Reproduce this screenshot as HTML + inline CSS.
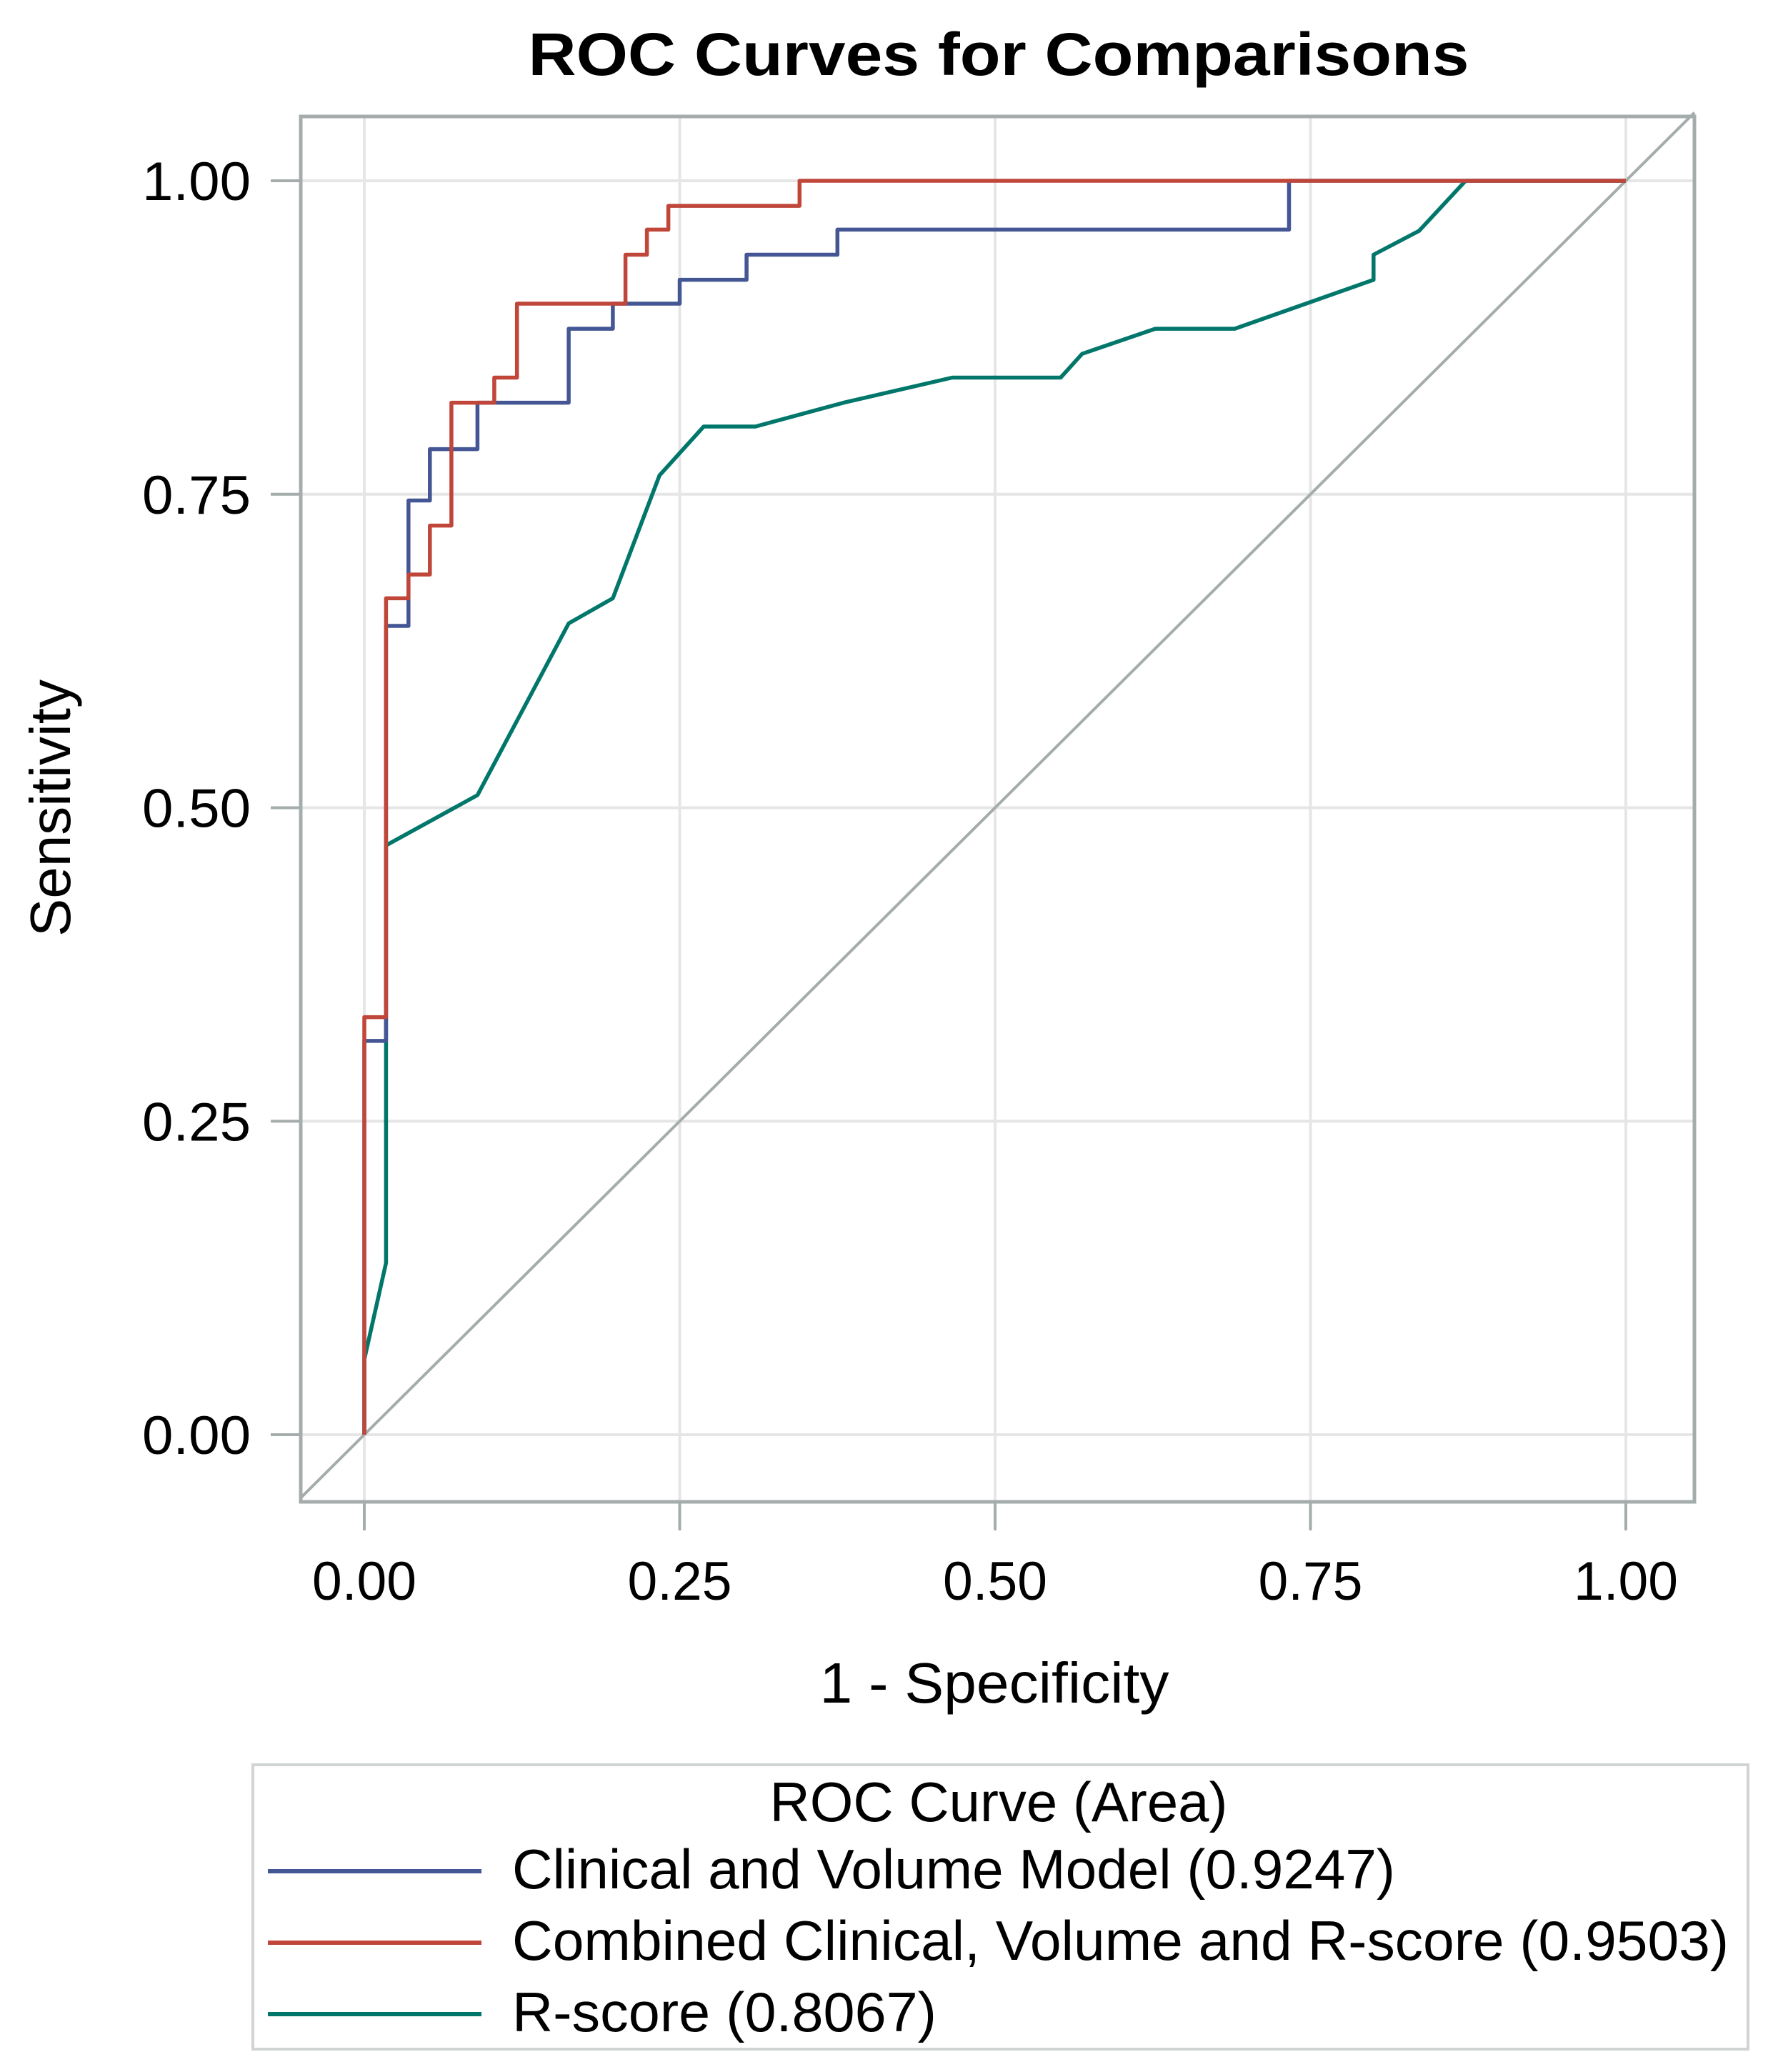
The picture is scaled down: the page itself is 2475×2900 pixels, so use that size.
<!DOCTYPE html>
<html><head><meta charset="utf-8"><style>
html,body{margin:0;padding:0;background:#fff;}
svg{display:block;font-family:"Liberation Sans",Arial,sans-serif;}
</style></head><body>
<svg id="chart" width="2475" height="2900" viewBox="0 0 2475 2900" xmlns="http://www.w3.org/2000/svg">
<rect width="2475" height="2900" fill="#fff"/>
<text x="1398" y="105" text-anchor="middle" font-weight="bold" font-size="84" textLength="1317" lengthAdjust="spacingAndGlyphs">ROC Curves for Comparisons</text>
<g id="grid"></g>
<g id="axes"></g>
<g id="series"></g>
<text x="1392" y="2383" text-anchor="middle" font-size="80" textLength="489" lengthAdjust="spacingAndGlyphs">1 - Specificity</text>
<text transform="translate(98,1131) rotate(-90)" text-anchor="middle" font-size="80" textLength="360" lengthAdjust="spacingAndGlyphs">Sensitivity</text>
<g>
<rect x="354" y="2470" width="2093" height="398" fill="#fff" stroke="#d0d4d4" stroke-width="4"/>
<text x="1398" y="2549" text-anchor="middle" font-size="78" textLength="641" lengthAdjust="spacingAndGlyphs">ROC Curve (Area)</text>
<line x1="375" y1="2619" x2="674" y2="2619" stroke="#445694" stroke-width="6"/>
<text x="717" y="2643" font-size="78" textLength="1236" lengthAdjust="spacingAndGlyphs">Clinical and Volume Model  (0.9247)</text>
<line x1="375" y1="2719" x2="674" y2="2719" stroke="#c0463a" stroke-width="6"/>
<text x="717" y="2743" font-size="78" textLength="1703" lengthAdjust="spacingAndGlyphs">Combined Clinical, Volume and R-score  (0.9503)</text>
<line x1="375" y1="2819" x2="674" y2="2819" stroke="#01766a" stroke-width="6"/>
<text x="717" y="2843" font-size="78" textLength="594" lengthAdjust="spacingAndGlyphs">R-score  (0.8067)</text>
</g>
</svg>
<script>
const xTicks = [0, 0.25, 0.5, 0.75, 1.0];
const yTicks = [0, 0.25, 0.5, 0.75, 1.0];
const tickLabels = ["0.00", "0.25", "0.50", "0.75", "1.00"];
const blueX = [0, 0, 0.0172, 0.0172, 0.035, 0.035, 0.052, 0.052, 0.0897, 0.0897, 0.162, 0.162, 0.197, 0.197, 0.25, 0.25, 0.303, 0.303, 0.375, 0.375, 0.733, 0.733, 1.0];
const blueY = [0, 0.314, 0.314, 0.645, 0.645, 0.745, 0.745, 0.786, 0.786, 0.823, 0.823, 0.882, 0.882, 0.902, 0.902, 0.921, 0.921, 0.941, 0.941, 0.961, 0.961, 1.0, 1.0];
const redX = [0, 0, 0.0172, 0.0172, 0.035, 0.035, 0.052, 0.052, 0.069, 0.069, 0.103, 0.103, 0.121, 0.121, 0.207, 0.207, 0.224, 0.224, 0.241, 0.241, 0.345, 0.345, 1.0];
const redY = [0, 0.333, 0.333, 0.667, 0.667, 0.686, 0.686, 0.725, 0.725, 0.823, 0.823, 0.843, 0.843, 0.902, 0.902, 0.941, 0.941, 0.961, 0.961, 0.98, 0.98, 1.0, 1.0];
const tealX = [0, 0, 0.0172, 0.0172, 0.0897, 0.162, 0.197, 0.234, 0.269, 0.31, 0.38, 0.466, 0.552, 0.569, 0.627, 0.69, 0.8, 0.8, 0.836, 0.873, 1.0];
const tealY = [0, 0.06, 0.137, 0.47, 0.51, 0.647, 0.667, 0.765, 0.804, 0.804, 0.823, 0.843, 0.843, 0.862, 0.882, 0.882, 0.921, 0.941, 0.96, 1.0, 1.0];

const NS = "http://www.w3.org/2000/svg";
const X0 = 510, X1 = 2276, Y0 = 2008, Y1 = 253;
const FL = 421, FR = 2372, FT = 163, FB = 2102;
function sx(v){ return X0 + v * (X1 - X0); }
function sy(v){ return Y0 - v * (Y0 - Y1); }
function mk(tag, attrs, parent){
  const e = document.createElementNS(NS, tag);
  for (const k in attrs) e.setAttribute(k, attrs[k]);
  parent.appendChild(e); return e;
}
const grid = document.getElementById('grid');
const axes = document.getElementById('axes');
const series = document.getElementById('series');
xTicks.forEach((v, i) => {
  const g = mk('line', {x1: sx(v), x2: sx(v), y1: FT, y2: FB, stroke: '#e6e6e6', 'stroke-width': 4}, grid);
  
  
  const t = mk('line', {x1: sx(v), x2: sx(v), y1: FB, y2: FB + 40, stroke: '#a4acac', 'stroke-width': 4}, axes);
  
  
  const l = mk('text', {x: sx(v), y: 2239, 'text-anchor': 'middle', 'font-size': 76, textLength: 146, lengthAdjust: 'spacingAndGlyphs'}, axes);
  l.textContent = tickLabels[i];
  
  
});
yTicks.forEach((v, i) => {
  const g = mk('line', {x1: FL, x2: FR, y1: sy(v), y2: sy(v), stroke: '#e6e6e6', 'stroke-width': 4}, grid);
  
  
  const t = mk('line', {x1: FL - 42, x2: FL, y1: sy(v), y2: sy(v), stroke: '#a4acac', 'stroke-width': 4}, axes);
  
  
  const l = mk('text', {x: 351, y: sy(v) + 27, 'text-anchor': 'end', 'font-size': 76, textLength: 152, lengthAdjust: 'spacingAndGlyphs'}, axes);
  l.textContent = tickLabels[i];
  
  
});
const frame = mk('rect', {x: FL, y: FT, width: FR - FL, height: FB - FT, fill: 'none', stroke: '#a4acac', 'stroke-width': 5}, axes);


// diagonal reference line spanning whole frame
const d0 = (FL - X0) / (X1 - X0), d1 = (FR - X0) / (X1 - X0);
const diag = mk('line', {x1: sx(d0), y1: sy(d0), x2: sx(d1), y2: sy(d1), stroke: '#a4acac', 'stroke-width': 4}, series);


function drawLine(xs, ys, color, name){
  const pts = xs.map((x, i) => sx(x).toFixed(1) + ',' + sy(ys[i]).toFixed(1)).join(' ');
  const p = mk('polyline', {points: pts, fill: 'none', stroke: color, 'stroke-width': 5.5, 'stroke-linejoin': 'round'}, series);
  
  
}
drawLine(tealX, tealY, '#01766a', 'rscore-curve');
drawLine(blueX, blueY, '#445694', 'clinical-volume-curve');
drawLine(redX, redY, '#c0463a', 'combined-curve');
</script>
</body></html>
